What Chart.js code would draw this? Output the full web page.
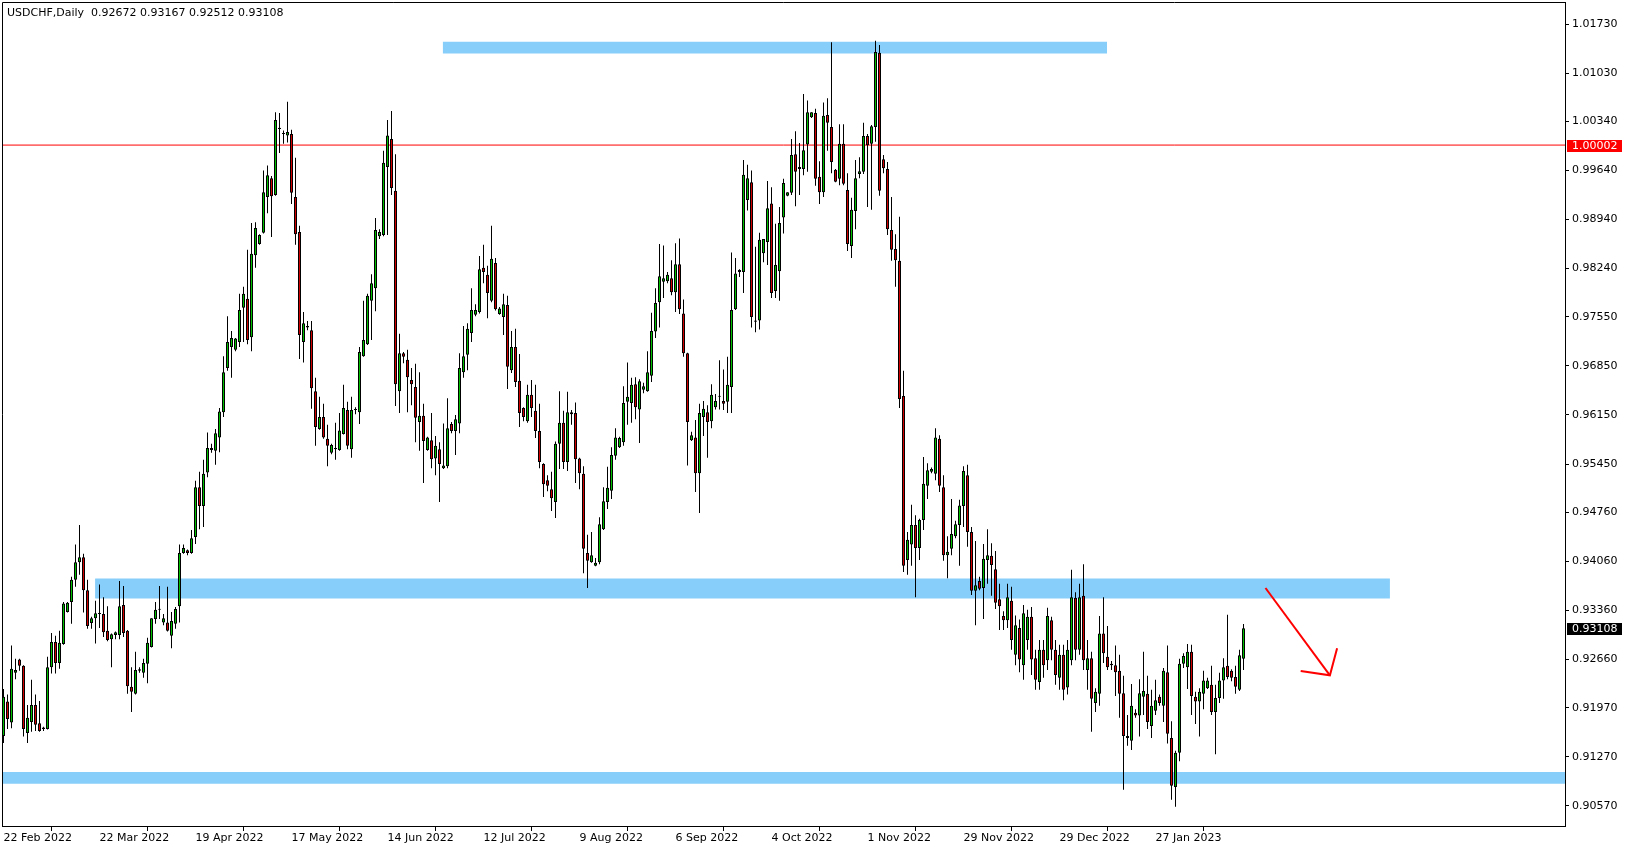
<!DOCTYPE html>
<html>
<head>
<meta charset="utf-8">
<title>USDCHF Daily</title>
<script src="https://cdn.jsdelivr.net/npm/chart.js@4.4.0/dist/chart.umd.min.js"></script>
<style>
  html, body { margin:0; padding:0; background:#fff; }
  #wrap { position:relative; width:1629px; height:850px; }
  #title { position:absolute; left:7px; top:6px; font:11px "DejaVu Sans", sans-serif; color:#000; white-space:pre; }
</style>
</head>
<body>
<div id="wrap">
  <canvas id="chart" width="1629" height="850"></canvas>
  <div id="title"></div>
</div>
<script>
// ── Data ────────────────────────────────────────────────────────────────────
const symbol = 'USDCHF', period = 'Daily';

const opens = [
  0.9157,0.9206,0.9176,0.9247,0.9266,0.9257,0.9161,0.9177,0.9201,0.9175,
  0.9169,0.9167,0.9255,0.9291,0.9261,0.9288,0.9334,0.9348,0.9380,0.9405,
  0.9412,0.9365,0.9318,0.9325,0.9332,0.9331,0.9307,0.9295,0.9301,0.9301,
  0.9344,0.9307,0.9227,0.9217,0.9250,0.9247,0.9260,0.9284,0.9324,0.9337,
  0.9319,0.9319,0.9300,0.9317,0.9342,0.9418,0.9422,0.9418,0.9441,0.9512,
  0.9485,0.9533,0.9565,0.9564,0.9583,0.9619,0.9682,0.9712,0.9708,0.9719,
  0.9768,0.9781,0.9726,0.9843,0.9859,0.9875,0.9926,0.9953,0.9929,1.0023,
  1.0017,1.0014,1.0016,0.9926,0.9876,0.9719,0.9740,0.9736,0.9649,0.9595,
  0.9612,0.9581,0.9561,0.9566,0.9565,0.9588,0.9622,0.9566,0.9622,0.9619,
  0.9699,0.9716,0.9778,0.9796,0.9870,0.9872,0.9969,1.0009,0.9935,0.9649,
  0.9703,0.9694,0.9665,0.9655,0.9605,0.9614,0.9565,0.9579,0.9553,0.9566,
  0.9539,0.9542,0.9602,0.9592,0.9603,0.9676,0.9701,0.9732,0.9758,0.9762,
  0.9825,0.9815,0.9778,0.9832,0.9759,0.9755,0.9772,0.9679,0.9712,0.9664,
  0.9625,0.9606,0.9644,0.9621,0.9592,0.9545,0.9522,0.9509,0.9491,0.9574,
  0.9604,0.9548,0.9619,0.9618,0.9553,0.9531,0.9418,0.9405,0.9400,0.9405,
  0.9452,0.9491,0.9507,0.9557,0.9569,0.9576,0.9634,0.9632,0.9659,0.9623,
  0.9651,0.9649,0.9671,0.9734,0.9776,0.9805,0.9806,0.9810,0.9790,0.9830,
  0.9760,0.9703,0.9579,0.9583,0.9532,0.9612,0.9619,0.9606,0.9626,0.9641,
  0.9635,0.9634,0.9655,0.9766,0.9819,0.9819,0.9922,0.9947,0.9750,0.9750,
  0.9846,0.9862,0.9917,0.9792,0.9820,0.9897,0.9928,0.9932,0.9987,0.9966,
  0.9966,1.0001,1.0040,1.0046,0.9955,0.9933,1.0043,1.0026,0.9965,0.9952,
  1.0002,0.9936,0.9856,0.9906,0.9959,0.9962,1.0013,1.0002,1.0026,1.0132,
  0.9980,0.9966,0.9879,0.9852,0.9835,0.9642,0.9408,0.9430,0.9458,0.9425,
  0.9465,0.9514,0.9534,0.9531,0.9581,0.9512,0.9415,0.9424,0.9442,0.9458,
  0.9485,0.9529,0.9448,0.9364,0.9378,0.9368,0.9408,0.9414,0.9395,0.9352,
  0.9328,0.9322,0.9350,0.9273,0.9311,0.9258,0.9294,0.9327,0.9268,0.9234,
  0.9280,0.9265,0.9322,0.9280,0.9240,0.9273,0.9226,0.9265,0.9354,0.9280,
  0.9357,0.9251,0.9268,0.9204,0.9217,0.9303,0.9270,0.9260,0.9258,0.9250,
  0.9218,0.9157,0.9150,0.9190,0.9186,0.9213,0.9217,0.9171,0.9193,0.9213,
  0.9200,0.9248,0.9154,0.9084,0.9133,0.9260,0.9255,0.9277,0.9213,0.9206,
  0.9217,0.9225,0.9230,0.9191,0.9211,0.9236,0.9257,0.9250,0.9241,0.9223,
  0.92672
];
const highs = [
  0.9224,0.9216,0.9286,0.9267,0.9267,0.9258,0.9201,0.9237,0.9216,0.9207,
  0.9170,0.9270,0.9304,0.9300,0.9307,0.9348,0.9348,0.9384,0.9430,0.9458,
  0.9417,0.9380,0.9327,0.9350,0.9373,0.9355,0.9342,0.9303,0.9306,0.9378,
  0.9371,0.9308,0.9255,0.9277,0.9255,0.9267,0.9297,0.9325,0.9348,0.9371,
  0.9331,0.9370,0.9334,0.9341,0.9430,0.9430,0.9423,0.9451,0.9521,0.9534,
  0.9551,0.9590,0.9574,0.9595,0.9625,0.9699,0.9756,0.9735,0.9725,0.9788,
  0.9798,0.9851,0.9889,0.9890,0.9873,0.9964,0.9971,0.9956,1.0047,1.0046,
  1.0021,1.0062,1.0022,0.9982,0.9885,0.9762,0.9749,0.9749,0.9668,0.9641,
  0.9631,0.9601,0.9574,0.9604,0.9618,0.9658,0.9634,0.9641,0.9626,0.9712,
  0.9778,0.9788,0.9816,0.9896,0.9880,0.9992,1.0036,1.0049,0.9987,0.9731,
  0.9705,0.9708,0.9682,0.9688,0.9676,0.9631,0.9584,0.9618,0.9585,0.9576,
  0.9603,0.9639,0.9605,0.9615,0.9703,0.9742,0.9746,0.9796,0.9773,0.9842,
  0.9858,0.9828,0.9885,0.9839,0.9769,0.9788,0.9785,0.9735,0.9738,0.9702,
  0.9626,0.9658,0.9665,0.9658,0.9631,0.9546,0.9529,0.9534,0.9577,0.9649,
  0.9621,0.9648,0.9622,0.9633,0.9554,0.9542,0.9444,0.9448,0.9411,0.9469,
  0.9512,0.9541,0.9569,0.9596,0.9584,0.9656,0.9690,0.9668,0.9669,0.9666,
  0.9661,0.9706,0.9761,0.9796,0.9859,0.9857,0.9819,0.9836,0.9860,0.9867,
  0.9780,0.9704,0.9591,0.9608,0.9631,0.9635,0.9629,0.9659,0.9645,0.9693,
  0.9680,0.9698,0.9847,0.9839,0.9823,0.9979,0.9972,0.9964,0.9855,0.9875,
  0.9866,0.9949,0.9940,0.9888,0.9912,0.9952,0.9933,1.0009,1.0020,1.0003,
  1.0073,1.0064,1.0047,1.0052,0.9977,1.0061,1.0067,1.0147,0.9966,1.0030,
  1.0030,0.9960,0.9925,0.9979,0.9983,1.0032,1.0016,1.0029,1.0149,1.0143,
  0.9986,0.9976,0.9926,0.9873,0.9898,0.9678,0.9448,0.9487,0.9472,0.9467,
  0.9555,0.9546,0.9540,0.9596,0.9586,0.9529,0.9442,0.9495,0.9464,0.9494,
  0.9542,0.9544,0.9455,0.9435,0.9384,0.9431,0.9452,0.9432,0.9421,0.9374,
  0.9335,0.9374,0.9370,0.9329,0.9323,0.9344,0.9337,0.9341,0.9280,0.9294,
  0.9294,0.9340,0.9327,0.9294,0.9287,0.9287,0.9294,0.9394,0.9362,0.9374,
  0.9402,0.9294,0.9277,0.9225,0.9328,0.9355,0.9314,0.9264,0.9286,0.9273,
  0.9243,0.9187,0.9231,0.9195,0.9238,0.9277,0.9243,0.9223,0.9237,0.9216,
  0.9254,0.9286,0.9178,0.9136,0.9267,0.9275,0.9288,0.9287,0.9220,0.9225,
  0.9250,0.9240,0.9257,0.9230,0.9247,0.9268,0.9330,0.9252,0.9257,0.9280,
  0.93167
];
const lows = [
  0.9147,0.9167,0.9168,0.9238,0.9250,0.9156,0.9147,0.9163,0.9164,0.9163,
  0.9164,0.9166,0.9246,0.9246,0.9253,0.9287,0.9333,0.9317,0.9370,0.9387,
  0.9333,0.9310,0.9310,0.9289,0.9311,0.9298,0.9292,0.9255,0.9295,0.9295,
  0.9298,0.9217,0.9191,0.9216,0.9247,0.9240,0.9232,0.9283,0.9317,0.9324,
  0.9315,0.9306,0.9282,0.9310,0.9319,0.9417,0.9415,0.9417,0.9431,0.9452,
  0.9455,0.9526,0.9561,0.9544,0.9562,0.9612,0.9678,0.9668,0.9706,0.9712,
  0.9719,0.9716,0.9706,0.9825,0.9858,0.9874,0.9903,0.9869,0.9928,0.9989,
  1.0002,1.0004,0.9916,0.9858,0.9695,0.9690,0.9736,0.9624,0.9571,0.9594,
  0.9581,0.9542,0.9559,0.9551,0.9564,0.9587,0.9566,0.9554,0.9616,0.9602,
  0.9698,0.9715,0.9722,0.9763,0.9866,0.9870,0.9872,0.9929,0.9628,0.9618,
  0.9689,0.9619,0.9629,0.9576,0.9564,0.9518,0.9564,0.9539,0.9529,0.9491,
  0.9538,0.9539,0.9589,0.9558,0.9589,0.9668,0.9679,0.9719,0.9756,0.9760,
  0.9803,0.9753,0.9776,0.9764,0.9758,0.9729,0.9652,0.9675,0.9655,0.9598,
  0.9606,0.9604,0.9612,0.9582,0.9539,0.9498,0.9506,0.9478,0.9468,0.9538,
  0.9538,0.9535,0.9601,0.9518,0.9509,0.9389,0.9368,0.9404,0.9399,0.9402,
  0.9451,0.9481,0.9495,0.9551,0.9568,0.9571,0.9601,0.9604,0.9609,0.9575,
  0.9646,0.9648,0.9662,0.9725,0.9740,0.9782,0.9803,0.9786,0.9762,0.9759,
  0.9698,0.9543,0.9578,0.9505,0.9475,0.9585,0.9554,0.9596,0.9623,0.9623,
  0.9622,0.9618,0.9618,0.9765,0.9812,0.9789,0.9907,0.9740,0.9733,0.9737,
  0.9833,0.9829,0.9782,0.9782,0.9778,0.9874,0.9927,0.9929,0.9913,0.9929,
  0.9957,0.9962,1.0039,0.9942,0.9916,0.9926,0.9992,0.9960,0.9947,0.9943,
  0.9943,0.9849,0.9839,0.9880,0.9953,0.9959,0.9912,0.9908,1.0005,0.9928,
  0.9960,0.9872,0.9835,0.9798,0.9625,0.9391,0.9387,0.9400,0.9355,0.9408,
  0.9451,0.9495,0.9532,0.9522,0.9505,0.9407,0.9382,0.9415,0.9439,0.9400,
  0.9455,0.9427,0.9358,0.9315,0.9365,0.9324,0.9374,0.9357,0.9338,0.9308,
  0.9308,0.9311,0.9280,0.9258,0.9248,0.9237,0.9280,0.9244,0.9223,0.9223,
  0.9240,0.9251,0.9265,0.9230,0.9223,0.9208,0.9216,0.9258,0.9265,0.9273,
  0.9251,0.9223,0.9163,0.9191,0.9200,0.9261,0.9251,0.9251,0.9214,0.9183,
  0.9080,0.9143,0.9137,0.9183,0.9156,0.9187,0.9167,0.9154,0.9187,0.9200,
  0.9177,0.9146,0.9066,0.9056,0.9121,0.9254,0.9224,0.9187,0.9174,0.9156,
  0.9195,0.9224,0.9187,0.9131,0.9204,0.9210,0.9238,0.9235,0.9217,0.9221,
  0.92512
];
const closes = [
  0.9213,0.9181,0.9253,0.9251,0.9257,0.9167,0.9183,0.9201,0.9173,0.9164,
  0.9167,0.9255,0.9291,0.9261,0.9290,0.9346,0.9347,0.9380,0.9405,0.9412,
  0.9365,0.9314,0.9325,0.9332,0.9331,0.9305,0.9294,0.9302,0.9305,0.9342,
  0.9304,0.9228,0.9220,0.9251,0.9252,0.9261,0.9290,0.9325,0.9337,0.9338,
  0.9325,0.9307,0.9321,0.9338,0.9418,0.9425,0.9418,0.9439,0.9512,0.9485,
  0.9531,0.9568,0.9568,0.9589,0.9620,0.9676,0.9719,0.9725,0.9724,0.9765,
  0.9788,0.9722,0.9845,0.9882,0.9872,0.9933,0.9957,0.9927,1.0036,1.0025,
  1.0016,1.0019,0.9932,0.9873,0.9729,0.9746,0.9742,0.9653,0.9598,0.9612,
  0.9583,0.9571,0.9572,0.9568,0.9593,0.9625,0.9571,0.9622,0.9623,0.9705,
  0.9722,0.9785,0.9803,0.9879,0.9876,0.9975,1.0014,0.9939,0.9659,0.9703,
  0.9698,0.9669,0.9659,0.9611,0.9614,0.9578,0.9583,0.9552,0.9571,0.9545,
  0.9543,0.9596,0.9592,0.9609,0.9682,0.9699,0.9738,0.9765,0.9765,0.9823,
  0.9819,0.9789,0.9838,0.9766,0.9767,0.9773,0.9684,0.9712,0.9662,0.9618,
  0.9612,0.9644,0.9625,0.9592,0.9548,0.9516,0.9514,0.9496,0.9574,0.9604,
  0.9548,0.9619,0.9616,0.9552,0.9532,0.9424,0.9407,0.9415,0.9404,0.9459,
  0.9492,0.9511,0.9558,0.9583,0.9582,0.9632,0.9641,0.9658,0.9626,0.9663,
  0.9656,0.9676,0.9735,0.9775,0.9813,0.9810,0.9815,0.9790,0.9830,0.9766,
  0.9703,0.9605,0.9586,0.9532,0.9618,0.9624,0.9605,0.9644,0.9635,0.9642,
  0.9631,0.9658,0.9765,0.9817,0.9822,0.9958,0.9953,0.9755,0.9748,0.9865,
  0.9866,0.9910,0.9789,0.9829,0.9889,0.9946,0.9933,0.9986,0.9962,0.9969,
  0.9993,1.0047,1.0047,0.9952,0.9933,1.0042,1.0032,0.9976,0.9948,1.0002,
  0.9945,0.9859,0.9908,0.9953,0.9963,1.0013,1.0000,1.0027,1.0133,0.9935,
  0.9967,0.9880,0.9851,0.9836,0.9638,0.9400,0.9437,0.9458,0.9425,0.9465,
  0.9517,0.9536,0.9538,0.9583,0.9514,0.9415,0.9420,0.9445,0.9459,0.9486,
  0.9535,0.9448,0.9364,0.9372,0.9367,0.9410,0.9415,0.9401,0.9347,0.9342,
  0.9322,0.9355,0.9294,0.9315,0.9266,0.9332,0.9327,0.9266,0.9237,0.9280,
  0.9258,0.9328,0.9280,0.9244,0.9273,0.9223,0.9280,0.9355,0.9280,0.9355,
  0.9265,0.9268,0.9210,0.9220,0.9303,0.9275,0.9255,0.9258,0.9248,0.9217,
  0.9157,0.9154,0.9200,0.9186,0.9218,0.9221,0.9177,0.9200,0.9208,0.9204,
  0.9250,0.9160,0.9086,0.9133,0.9260,0.9271,0.9277,0.9214,0.9206,0.9220,
  0.9236,0.9236,0.9191,0.9211,0.9236,0.9255,0.9241,0.9240,0.9227,0.9272,
  0.93108
];

// x axis: bar index, one tick label every 24 bars
const xTickIdx    = [0, 24, 48, 72, 96, 120, 144, 168, 192, 216, 240, 264, 288];
const xTickLabels = ['22 Feb 2022','22 Mar 2022','19 Apr 2022','17 May 2022','14 Jun 2022','12 Jul 2022',
                     '9 Aug 2022','6 Sep 2022','4 Oct 2022','1 Nov 2022','29 Nov 2022','29 Dec 2022','27 Jan 2023'];
const yTickVals   = [1.01730,1.01030,1.00340,0.99640,0.98940,0.98240,0.97550,0.96850,0.96150,
                     0.95450,0.94760,0.94060,0.93360,0.92660,0.91970,0.91270,0.90570];

// view range (bars / price)
const xMin = -0.375, xMax = 390.375;
const yMin = 0.902843, yMax = 1.020440;

// support / resistance zones
const bandFrom = [109.8, 22.9, xMin];
const bandTo   = [275.9, 346.6, xMax];
const bandHigh = [1.01476, 0.93815, 0.91055];
const bandLow  = [1.01308, 0.93531, 0.90887];

// horizontal level + price tags
const levelPrice = 1.00002;
const tagValues  = [1.00002, 0.93108];

// red arrow
const arrowX = [315.5, 331.6];
const arrowY = [0.93681, 0.92435];
const headX  = [324.3, 331.6, 333.4];
const headY  = [0.92495, 0.92435, 0.92822];

// ── Styles ───────────────────────────────────────────────────────────────────
const GREEN = '#00c000', RED = '#d00000', BAND = '#87cefa', LINE_RED = '#ff0000';
const FONT = { family:'"DejaVu Sans", sans-serif', size:11 };
const tagColors = [LINE_RED, '#000000'];

const last = opens.length - 1;
document.getElementById('title').textContent =
  `${symbol},${period}  ${opens[last].toFixed(5)} ${highs[last].toFixed(5)} ${lows[last].toFixed(5)} ${closes[last].toFixed(5)}`;

// ── Datasets ─────────────────────────────────────────────────────────────────
const wickData  = highs.map((h, i) => ({ x:i, y:[lows[i], h] }));
const bodyData  = opens.map((o, i) => ({ x:i, y:[o, closes[i]] }));
const bodyColor = opens.map((o, i) => closes[i] >= o ? GREEN : RED);

const pts = (xs, ys) => xs.map((x, i) => ({ x, y:ys[i] }));

const bandSets = [];
bandFrom.forEach((x0, k) => {
  bandSets.push({ type:'line', data:pts([x0, bandTo[k]], [bandHigh[k], bandHigh[k]]),
    borderWidth:0, pointRadius:0, backgroundColor:BAND, fill:'+1', order:10 });
  bandSets.push({ type:'line', data:pts([x0, bandTo[k]], [bandLow[k], bandLow[k]]),
    borderWidth:0, pointRadius:0, fill:false, order:10 });
});

const datasets = [
  ...bandSets,
  { type:'line', data:pts([xMin, xMax], [levelPrice, levelPrice]),
    borderColor:LINE_RED, borderWidth:1, pointRadius:0, fill:false, order:6 },
  { type:'bar', data:wickData, backgroundColor:'#000', borderWidth:0,
    grouped:false, maxBarThickness:1, categoryPercentage:1, barPercentage:1, inflateAmount:0, order:4 },
  { type:'bar', data:bodyData, backgroundColor:bodyColor, borderColor:'#000', borderWidth:1,
    borderSkipped:false, grouped:false, maxBarThickness:3, categoryPercentage:1, barPercentage:1,
    inflateAmount:0, minBarLength:1, order:3 },
  { type:'line', data:pts(arrowX, arrowY), borderColor:LINE_RED, borderWidth:2,
    pointRadius:0, fill:false, order:1 },
  { type:'line', data:pts(headX, headY), borderColor:LINE_RED, borderWidth:2,
    pointRadius:0, fill:false, order:1 }
];

// ── Plugins: frame + price tags ──────────────────────────────────────────────
const framePlugin = {
  id:'frame',
  afterDraw(chart) {
    const { ctx, chartArea:a } = chart;
    ctx.save();
    ctx.strokeStyle = '#000'; ctx.lineWidth = 1;
    ctx.beginPath();
    ctx.moveTo(a.left + 0.5, a.bottom); ctx.lineTo(a.left + 0.5, a.top + 0.5); ctx.lineTo(a.right, a.top + 0.5);
    ctx.stroke();
    ctx.restore();
  }
};

const tagPlugin = {
  id:'tags',
  afterDraw(chart) {
    const { ctx, chartArea:a } = chart, ys = chart.scales.y;
    ctx.save();
    ctx.font = '11px "DejaVu Sans", sans-serif';
    ctx.textBaseline = 'middle';
    tagValues.forEach((v, k) => {
      const py = Math.round(ys.getPixelForValue(v));
      ctx.fillStyle = tagColors[k];
      ctx.fillRect(a.right + 2, py - 5, 55, 12);
      ctx.fillStyle = '#fff';
      ctx.fillText(v.toFixed(5), a.right + 7, py + 1);
    });
    ctx.restore();
  }
};

// ── Chart ────────────────────────────────────────────────────────────────────
new Chart(document.getElementById('chart').getContext('2d'), {
  type:'bar',
  data:{ datasets },
  options:{
    responsive:false, animation:false, devicePixelRatio:1,
    layout:{ padding:{ left:2, top:2, right:0, bottom:0 } },
    plugins:{ legend:{ display:false }, tooltip:{ enabled:false }, title:{ display:false } },
    scales:{
      x:{
        type:'linear', position:'bottom', min:xMin, max:xMax, offset:false,
        grid:{ drawOnChartArea:false, drawTicks:true, tickLength:5, color:'#000' },
        border:{ color:'#000', width:1 },
        ticks:{ autoSkip:false, maxRotation:0, minRotation:0, align:'start', padding:1, color:'#000', font:FONT,
                callback:(v, i) => xTickLabels[i] },
        afterBuildTicks:s => { s.ticks = xTickIdx.map(v => ({ value:v })); },
        afterFit:s => { s.height = 24; s.paddingLeft = 0; s.paddingRight = 0; }
      },
      y:{
        type:'linear', position:'right', min:yMin, max:yMax,
        grid:{ drawOnChartArea:false, drawTicks:true, tickLength:4, color:'#000' },
        border:{ color:'#000', width:1 },
        ticks:{ padding:3, color:'#000', font:FONT, callback:v => v.toFixed(5) },
        afterBuildTicks:s => { s.ticks = yTickVals.map(v => ({ value:v })); },
        afterFit:s => { s.width = 64; s.paddingTop = 0; s.paddingBottom = 0; }
      }
    }
  },
  plugins:[framePlugin, tagPlugin]
});
</script>
</body>
</html>
